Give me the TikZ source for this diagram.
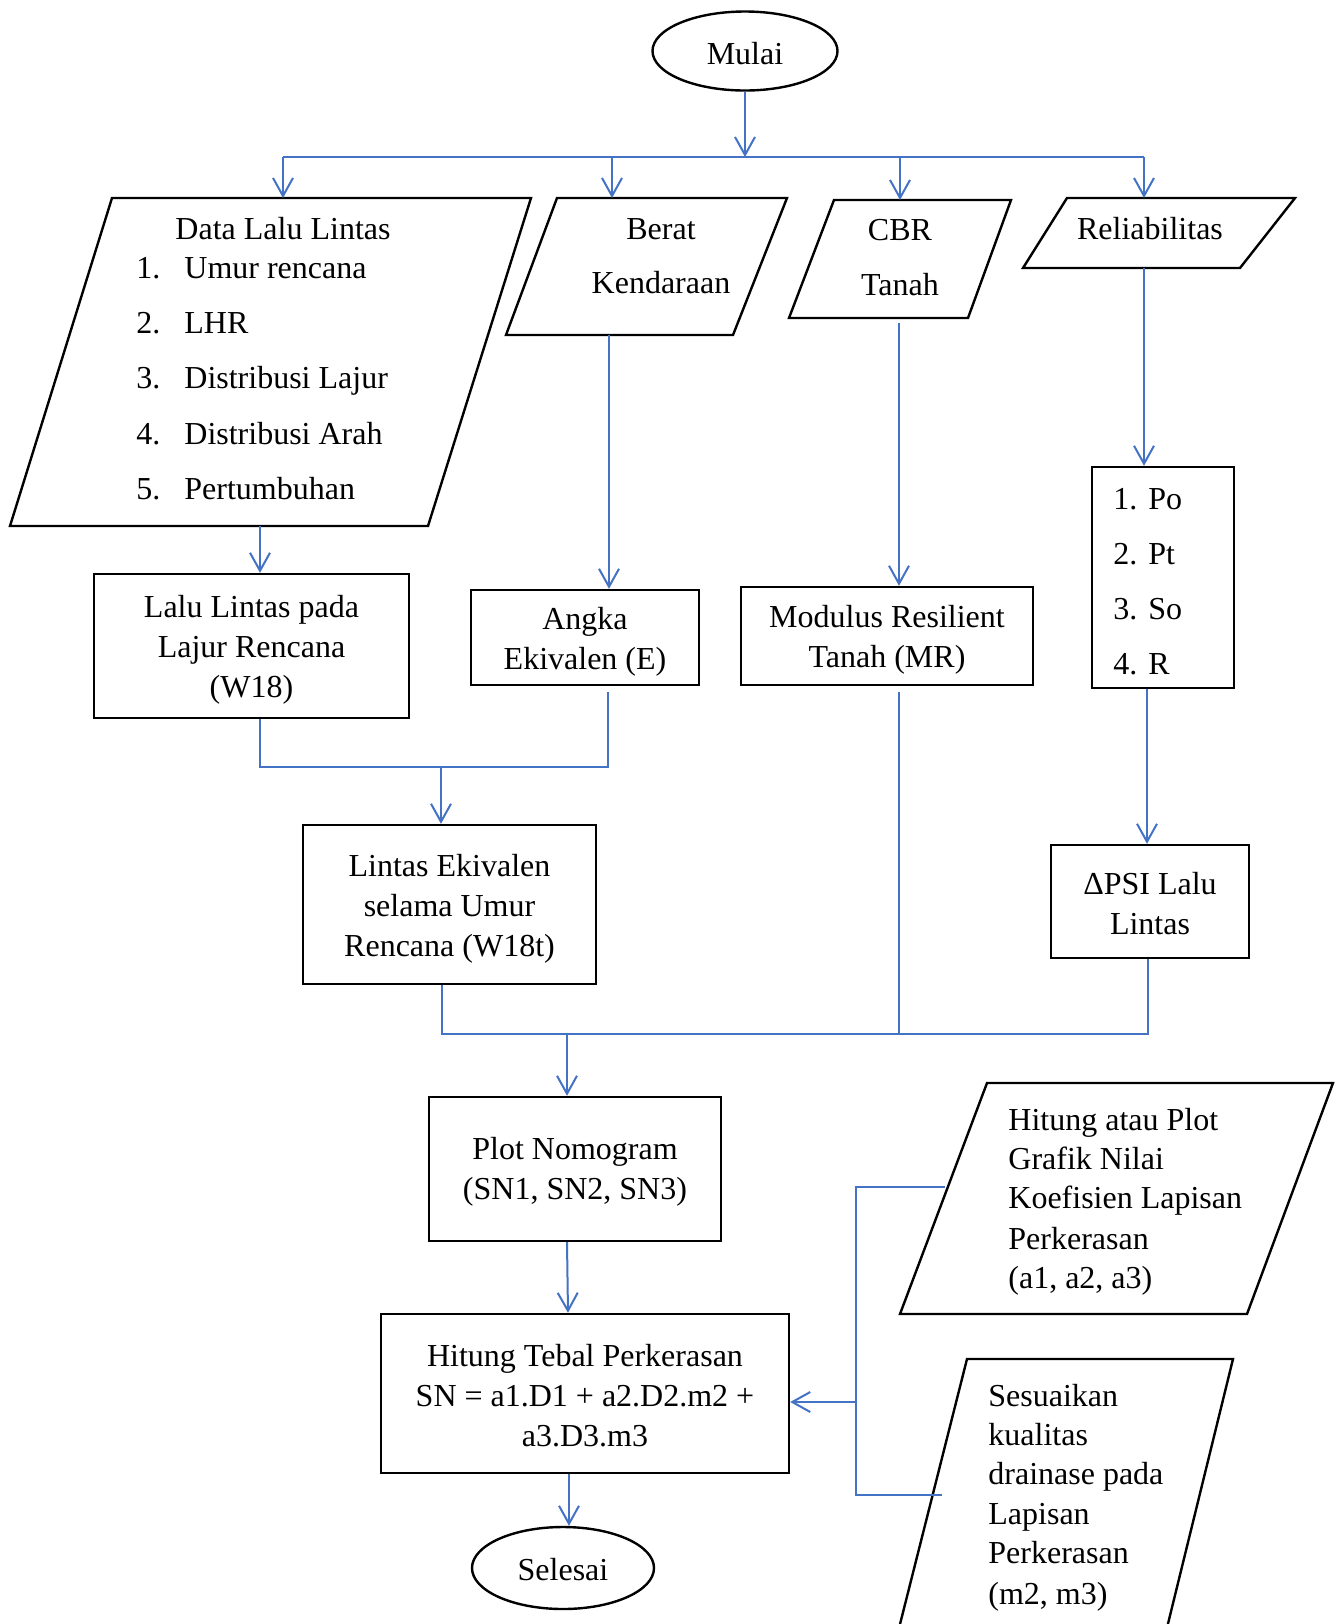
\documentclass[tikz,border=0pt]{standalone}
\usepackage{fontspec}
\setmainfont{Liberation Serif}
\usetikzlibrary{arrows.meta,shapes.geometric}
\definecolor{lineblue}{RGB}{68,114,196}
\newcommand\myfs{\fontsize{16}{20}\selectfont}
\begin{document}
\begin{tikzpicture}[x=0.5pt,y=-0.5pt,
  box/.style={draw, line width=1.2pt, inner sep=0pt},
  term/.style={draw, ellipse, line width=1.2pt, inner sep=0pt},
  shp/.style={draw, line width=1.2pt, line join=miter},
  txt/.style={inner sep=0pt, font=\myfs, yshift=-1pt},
  btxt/.style={inner sep=0pt, font=\myfs, align=center},
  arr/.style={draw=lineblue, line width=1pt, -{Straight Barb[length=9pt,width=10pt]}},
  thinl/.style={draw=lineblue, line width=0.6pt},
  thickl/.style={draw=lineblue, line width=1pt}]
\clip (0,0) rectangle (1335,1624);
\fill[white] (0,0) rectangle (1335,1624);

% terminals
\node[term, minimum width=92.5pt, minimum height=39.5pt] (mulai) at (745,51) {};
\node[btxt] (mulaiT) at ([yshift=-1.5pt]mulai.center) {Mulai};
\node[term, minimum width=91pt, minimum height=41pt] (selesai) at (563,1568) {};
\node[btxt] (selesaiT) at ([yshift=-1pt]selesai.center) {Selesai};

% input parallelograms
\draw[shp] (112,198) -- (531,198) -- (428,526) -- (10,526) -- cycle;
\node[txt, anchor=base] (dataT) at (283,237) {Data Lalu Lintas};
\node[txt, anchor=base west] (d1n) at (136,276) {1.};
\node[txt, anchor=base west] (d1) at (184,276) {Umur rencana};
\node[txt, anchor=base west] (d2n) at (136,331) {2.};
\node[txt, anchor=base west] (d2) at (184,331) {LHR};
\node[txt, anchor=base west] (d3n) at (136,386) {3.};
\node[txt, anchor=base west] (d3) at (184,386) {Distribusi Lajur};
\node[txt, anchor=base west] (d4n) at (136,442) {4.};
\node[txt, anchor=base west] (d4) at (184,442) {Distribusi Arah};
\node[txt, anchor=base west] (d5n) at (136,497) {5.};
\node[txt, anchor=base west] (d5) at (184,497) {Pertumbuhan};

\draw[shp] (557,198) -- (787,198) -- (733,335) -- (506,335) -- cycle;
\node[txt, anchor=base] (berat1) at (661,237) {Berat};
\node[txt, anchor=base] (berat2) at (661,291) {Kendaraan};

\draw[shp] (834,200) -- (1011,200) -- (968,318) -- (789,318) -- cycle;
\node[txt, anchor=base] (cbr1) at (900,238) {CBR};
\node[txt, anchor=base] (cbr2) at (900,293) {Tanah};

\draw[shp] (1067,198) -- (1295,198) -- (1240,268) -- (1023,268) -- cycle;
\node[txt, anchor=base] (reli) at (1150,237) {Reliabilitas};

% process boxes
\node[box, minimum width=157.5pt, minimum height=72pt] (w18) at (251.5,646) {};
\node[btxt] (w18T) at ([yshift=-2pt]w18.center) {Lalu Lintas pada\\Lajur Rencana\\(W18)};
\node[box, minimum width=114pt, minimum height=47.5pt] (angka) at (585,637.5) {};
\node[btxt] (angkaT) at ([yshift=-2pt]angka.center) {Angka\\Ekivalen (E)};
\node[box, minimum width=146pt, minimum height=49pt] (mr) at (887,636) {};
\node[btxt] (mrT) at ([yshift=-2pt]mr.center) {Modulus Resilient\\Tanah (MR)};
\node[box, minimum width=71pt, minimum height=110.5pt] (po) at (1163,577.5) {};
\node[txt, anchor=base west] (p1n) at (1113,507) {1.};
\node[txt, anchor=base west] (p1) at (1148,507) {Po};
\node[txt, anchor=base west] (p2n) at (1113,562) {2.};
\node[txt, anchor=base west] (p2) at (1148,562) {Pt};
\node[txt, anchor=base west] (p3n) at (1113,617) {3.};
\node[txt, anchor=base west] (p3) at (1148,617) {So};
\node[txt, anchor=base west] (p4n) at (1113,672) {4.};
\node[txt, anchor=base west] (p4) at (1148,672) {R};
\node[box, minimum width=99pt, minimum height=56.5pt] (psi) at (1150,901.5) {};
\node[btxt] (psiT) at ([yshift=-1pt]psi.center) {ΔPSI Lalu\\Lintas};
\node[box, minimum width=146.5pt, minimum height=79.5pt] (lintas) at (449.5,904.5) {};
\node[btxt] (lintasT) at ([yshift=-2pt]lintas.center) {Lintas Ekivalen\\selama Umur\\Rencana (W18t)};
\node[box, minimum width=146pt, minimum height=72pt] (plot) at (575,1169) {};
\node[btxt] (plotT) at ([yshift=-1.5pt]plot.center) {Plot Nomogram\\(SN1, SN2, SN3)};
\node[box, minimum width=204pt, minimum height=79.5pt] (hitung) at (585,1393.5) {};
\node[btxt] (hitungT) at ([yshift=-1pt]hitung.center) {Hitung Tebal Perkerasan\\SN = a1.D1 + a2.D2.m2 +\\a3.D3.m3};

% right-hand inputs
\draw[shp] (987,1083) -- (1333,1083) -- (1247,1314) -- (900,1314) -- cycle;
\node[txt, anchor=base west] (k1) at (1008,1128) {Hitung atau Plot};
\node[txt, anchor=base west] (k2) at (1008,1167) {Grafik Nilai};
\node[txt, anchor=base west] (k3) at (1008,1206) {Koefisien Lapisan};
\node[txt, anchor=base west] (k4) at (1008,1247) {Perkerasan};
\node[txt, anchor=base west] (k5) at (1008,1286) {(a1, a2, a3)};

\draw[shp] (896,1640) -- (967,1359) -- (1233,1359) -- (1164,1640);
\node[txt, anchor=base west] (s1) at (988,1404) {Sesuaikan};
\node[txt, anchor=base west] (s2) at (988,1443) {kualitas};
\node[txt, anchor=base west] (s3) at (988,1482) {drainase pada};
\node[txt, anchor=base west] (s4) at (988,1522) {Lapisan};
\node[txt, anchor=base west] (s5) at (988,1561) {Perkerasan};
\node[txt, anchor=base west] (s6) at (988,1602) {(m2, m3)};

% coordinates
\coordinate (busM) at (745,157);
\coordinate (bus1) at (283,157);
\coordinate (bus2) at (612,157);
\coordinate (bus3) at (900,157);
\coordinate (bus4) at (1144,157);
\coordinate (dataTop) at (283,198);
\coordinate (beratTop) at (612,198);
\coordinate (cbrTop) at (900,200);
\coordinate (reliTop) at (1144,198);
\coordinate (dataBot) at (260,526);
\coordinate (beratBot) at (609,335);
\coordinate (cbrBot) at (899,323);
\coordinate (reliBot) at (1144,268);
\coordinate (j1) at (260,767);
\coordinate (j2) at (608,767);
\coordinate (j3) at (441,767);
\coordinate (k1a) at (442,1034);
\coordinate (k1b) at (1148,1034);
\coordinate (k1c) at (899,1034);
\coordinate (k1d) at (567,1034);
\coordinate (brT) at (856,1187);
\coordinate (brB) at (856,1495);
\coordinate (brM) at (856,1402);
\coordinate (kTip) at (945,1187);
\coordinate (sTip) at (942,1495);

% connectors
\draw[arr] (mulai.south) -- (busM);
\draw[thinl] (bus1) -- (bus4);
\draw[arr] (bus1) -- (dataTop);
\draw[arr] (bus2) -- (beratTop);
\draw[arr] (bus3) -- (cbrTop);
\draw[arr] (bus4) -- (reliTop);

\draw[arr] (dataBot) -- (dataBot |- w18.north);
\draw[arr] (beratBot) -- (beratBot |- angka.north);
\draw[arr] (cbrBot) -- (cbrBot |- mr.north);
\draw[arr] (reliBot) -- (reliBot |- po.north);
\draw[arr] (po.south -| 1147,0) -- (psi.north -| 1147,0);

\draw[thinl] (w18.south -| j1) -- (j1) -- (j2) -- ([yshift=-3pt]angka.south -| j2);
\draw[arr] (j3) -- (j3 |- lintas.north);

\draw[thinl] (lintas.south -| k1a) -- (k1a) -- (k1b) -- (psi.south -| k1b);
\draw[thinl] ([yshift=-3pt]mr.south -| k1c) -- (k1c);
\draw[arr] (k1d) -- (k1d |- plot.north);

\draw[arr] (plot.south -| 567,0) -- (hitung.north -| 568,0);
\draw[arr] (hitung.south -| 569,0) -- (selesai.north -| 569,0);

\draw[thinl] (kTip) -- (brT) -- (brB) -- (sTip);
\draw[arr] (brM) -- (brM -| hitung.east);
\end{tikzpicture}
\end{document}
